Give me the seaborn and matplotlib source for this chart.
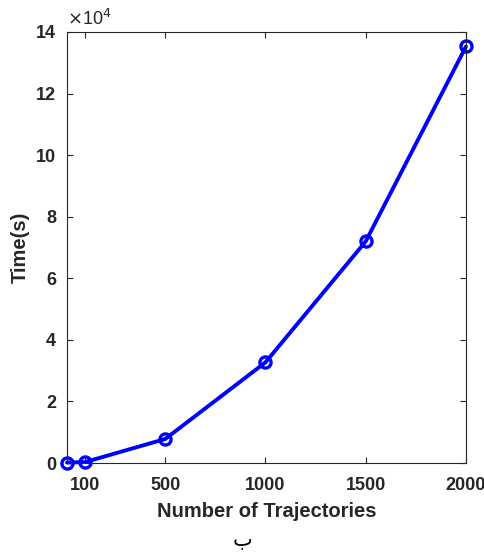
import matplotlib
matplotlib.use("Agg")
import matplotlib.pyplot as plt
import seaborn as sns
import pandas as pd

trajectories = [10, 100, 500, 1000, 1500, 2000]
time_s = [150, 300, 7800, 32700, 72000, 135300]
x_ticks = [100, 500, 1000, 1500, 2000]
y_ticks = [0, 2, 4, 6, 8, 10, 12, 14]

sns.set_theme(style="white")
plt.rcParams['font.family'] = ['Liberation Sans', 'DejaVu Sans']

df = pd.DataFrame({"n": trajectories, "t": [v / 1e4 for v in time_s]})

fig = plt.figure(figsize=(4.85, 5.53), dpi=100)
ax = fig.add_axes([67/485, 1 - 463/553, (466-67)/485, (463-32)/553])

sns.lineplot(data=df, x="n", y="t", ax=ax, color=(0, 0, 1), linewidth=2.8,
             marker="o", markersize=8, markerfacecolor="none",
             markeredgecolor=(0, 0, 1), markeredgewidth=2.4)
for ln in ax.lines:
    ln.set_clip_on(False)

ax.set_xlim(10, 2000)
ax.set_ylim(0, 14)
ax.set_xticks(x_ticks)
ax.set_yticks(y_ticks)
ax.set_xticklabels([str(v) for v in x_ticks], fontsize=13, fontweight="bold", color="#262626")
ax.set_yticklabels([str(v) for v in y_ticks], fontsize=13, fontweight="bold", color="#262626")
ax.tick_params(axis="x", direction="in", length=4, width=0.8, color="#262626", top=True,
               bottom=True, pad=10)
ax.tick_params(axis="y", direction="in", length=4, width=0.8, color="#262626", right=True,
               left=True, pad=8)
for s in ax.spines.values():
    s.set_color("#262626")
    s.set_linewidth(0.8)
    s.set_visible(True)

ax.set_xlabel("Number of Trajectories", fontsize=14.5, fontweight="bold", color="#262626", labelpad=6)
ax.set_ylabel("Time(s)", fontsize=14.5, fontweight="bold", color="#262626", labelpad=4)

ax.text(0.0, 1.008, r"$\times$10$^{4}$", transform=ax.transAxes, fontsize=13,
        color="#262626", ha="left", va="bottom")

fig.text(243/485, 1 - 545/553, "ب", fontsize=15, ha="center", va="baseline",
         family=["DejaVu Sans"], color="black")

fig.savefig("out.png", dpi=100, facecolor="white")
